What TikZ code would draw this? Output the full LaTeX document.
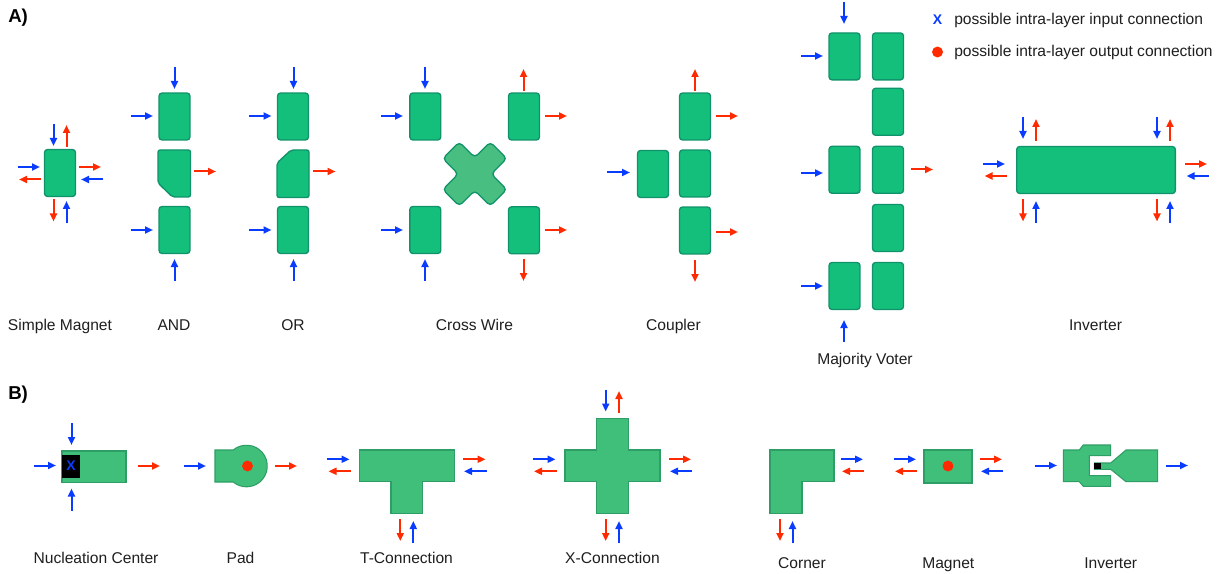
\documentclass[tikz,border=0pt]{standalone}
\usepackage{fontspec}
\setmainfont{Liberation Sans}
\usetikzlibrary{arrows.meta}
\definecolor{magfill}{HTML}{14BF7C}
\definecolor{magline}{HTML}{10936A}
\definecolor{padfill}{HTML}{40BF7A}
\definecolor{padline}{HTML}{2F9E66}
\definecolor{crossfill}{HTML}{48BE80}
\definecolor{inblue}{HTML}{0A3CFF}
\definecolor{outred}{HTML}{FF2A00}
\newcount\arrowno
\newcommand{\conn}[5]{\global\advance\arrowno by 1
  \coordinate (s\the\arrowno) at (#2,#3);
  \coordinate (e\the\arrowno) at (#4,#5);
  \draw[#1] (s\the\arrowno) -- (e\the\arrowno);}
\tikzset{
  inarrow/.style={draw=inblue,line width=1.5pt,-{Triangle[length=6pt,width=5.2pt]}},
  outarrow/.style={draw=outred,line width=1.5pt,-{Triangle[length=6pt,width=5.2pt]}},
  magnet/.style={draw=magline,fill=magfill,line width=1pt,rounded corners=2.2pt,inner sep=0pt,minimum width=23.2pt,minimum height=35.2pt},
  longmagnet/.style={magnet,minimum width=119pt},
  chamfer/.style={draw=magline,fill=magfill,line width=1pt,rounded corners=1.6pt},
  padshape/.style={draw=padline,fill=padfill,line width=.8pt},
  label/.style={font=\fontsize{11.7pt}{14pt}\selectfont,inner sep=0pt,text=black!88,anchor=base},
  heading/.style={font=\fontsize{14pt}{16pt}\selectfont\bfseries,inner sep=0pt,anchor=base west},
  reddot/.style={circle,fill=outred,inner sep=0pt,minimum size=8.2pt},
  bluex/.style={font=\fontsize{10.5pt}{13pt}\selectfont\bfseries,text=inblue,inner sep=0pt},
}
\begin{document}
\begin{tikzpicture}[x=0.75pt,y=-0.75pt]
\useasboundingbox[fill=white] (0,0) rectangle (1225,574);
\node[heading] (hA) at (8,23) {A)};
\node[heading] (hB) at (8,399) {B)};
% Simple magnet
\node[magnet] (sm) at (60,173) {};
\conn{inarrow}{53.5}{124}{53.5}{146}
\conn{outarrow}{66.5}{147}{66.5}{125}
\conn{inarrow}{18}{167}{40}{167}
\conn{outarrow}{41}{179.5}{19}{179.5}
\conn{outarrow}{79}{167}{101}{167}
\conn{inarrow}{103}{179.5}{81}{179.5}
\conn{outarrow}{53.5}{199.5}{53.5}{221.5}
\conn{inarrow}{66.5}{223}{66.5}{201}
\node[label] (lsm) at (60,330) {Simple Magnet};
% AND
\node[magnet] (a1) at (174.5,116.5) {};
\draw[chamfer] (174,150) -- (190.5,150) -- (190.5,197) -- (172.5,197) -- (158,183) -- (158,150) -- cycle;
\node[magnet] (a3) at (174.5,230) {};
\conn{inarrow}{174.5}{67}{174.5}{89}
\conn{inarrow}{131}{116}{153}{116}
\conn{outarrow}{194}{171.5}{216}{171.5}
\conn{inarrow}{131}{230}{153}{230}
\conn{inarrow}{174.5}{281}{174.5}{259}
\node[label] (land) at (174,330) {AND};
% OR
\node[magnet] (o1) at (293,116.5) {};
\draw[chamfer] (300,150) -- (309,150) -- (309,197.5) -- (277,197.5) -- (277,163) -- (291,150) -- cycle;
\node[magnet] (o3) at (293,230) {};
\conn{inarrow}{293.5}{67}{293.5}{89}
\conn{inarrow}{249}{116}{271.5}{116}
\conn{outarrow}{313}{171.5}{335.5}{171.5}
\conn{inarrow}{249}{230}{271.5}{230}
\conn{inarrow}{293.5}{281}{293.5}{259}
\node[label] (lor) at (293,330) {OR};
% Cross wire
\node[magnet] (c1) at (425.3,116.5) {};
\node[magnet] (c2) at (524,116.5) {};
\node[magnet] (c3) at (425.3,230) {};
\node[magnet] (c4) at (524,230.3) {};
\draw[draw=magline,fill=crossfill,line width=1pt,rounded corners=3pt,shift={(474.8,174)}]
  (8,-24.5) -- (15.5,-32) -- (32,-15.5) -- (16.5,0) -- (32,15.5) -- (15.5,32) -- (0,16.5) -- (-15.5,32) -- (-32,15.5) -- (-16.5,0) -- (-32,-15.5) -- (-15.5,-32) -- (0,-16.5) -- cycle;
\conn{inarrow}{425}{67}{425}{89}
\conn{inarrow}{381}{116}{403}{116}
\conn{outarrow}{523.5}{91}{523.5}{69}
\conn{outarrow}{545}{116}{567}{116}
\conn{inarrow}{381}{230}{403}{230}
\conn{inarrow}{425}{281}{425}{259}
\conn{outarrow}{545}{230}{567}{230}
\conn{outarrow}{523.5}{259}{523.5}{281}
\node[label] (lcw) at (474.5,330) {Cross Wire};
% Coupler
\node[magnet] (k0) at (653,174) {};
\node[magnet] (k1) at (695,116.5) {};
\node[magnet] (k2) at (695,173.5) {};
\node[magnet] (k3) at (695,230.5) {};
\conn{outarrow}{695}{91}{695}{69}
\conn{outarrow}{716}{116}{738}{116}
\conn{inarrow}{607}{172.5}{630}{172.5}
\conn{outarrow}{716}{232}{738}{232}
\conn{outarrow}{695}{260}{695}{282}
\node[label] (lco) at (673.5,330) {Coupler};
% Majority voter
\node[magnet] (v1) at (844.5,56.4) {};
\node[magnet] (v2) at (888,56.4) {};
\node[magnet] (v3) at (888,111.8) {};
\node[magnet] (v4) at (844.5,169.8) {};
\node[magnet] (v5) at (888,169.8) {};
\node[magnet] (v6) at (888,228) {};
\node[magnet] (v7) at (844.5,286) {};
\node[magnet] (v8) at (888,286) {};
\conn{inarrow}{844}{2}{844}{24}
\conn{inarrow}{801}{56}{823}{56}
\conn{inarrow}{801}{173}{823}{173}
\conn{outarrow}{911}{169.5}{933}{169.5}
\conn{inarrow}{801}{286}{823}{286}
\conn{inarrow}{844}{342}{844}{320}
\node[label] (lmv) at (865,364) {Majority Voter};
% Legend
\node[bluex] (lx) at (937.5,20) {X};
\node[reddot] (ld) at (937.5,52) {};
\node[label,anchor=base west] (lt1) at (954,25) {possible intra-layer input connection};
\node[label,anchor=base west] (lt2) at (954,57) {possible intra-layer output connection};
% Inverter A
\node[longmagnet] (ia) at (1096,170) {};
\conn{inarrow}{1023}{117}{1023}{139}
\conn{outarrow}{1036}{141}{1036}{119}
\conn{inarrow}{1157}{117}{1157}{139}
\conn{outarrow}{1170}{141}{1170}{119}
\conn{inarrow}{983}{164}{1005}{164}
\conn{outarrow}{1006.5}{176}{984.5}{176}
\conn{outarrow}{1185}{164}{1207}{164}
\conn{inarrow}{1208.5}{176}{1186.5}{176}
\conn{outarrow}{1023}{199.5}{1023}{221.5}
\conn{inarrow}{1036}{223}{1036}{201}
\conn{outarrow}{1157}{199.5}{1157}{221.5}
\conn{inarrow}{1170}{223}{1170}{201}
\node[label] (lia) at (1095.5,330) {Inverter};
% Nucleation center
\draw[padshape] (62,451) rectangle (126,482.5);
\fill[black] (62,455) rectangle (80,478);
\node[bluex] (nx) at (71,466) {X};
\conn{inarrow}{71.5}{423}{71.5}{445}
\conn{inarrow}{34}{465.5}{56}{465.5}
\conn{inarrow}{71.5}{510.5}{71.5}{488.5}
\conn{outarrow}{138}{466}{160}{466}
\node[label] (lnc) at (96,563) {Nucleation Center};
% Pad
\draw[padshape] (215,450) -- (233.2,450) arc[start angle=129.7,delta angle=-259.4,radius=15.6pt] -- (215,482) -- cycle;
\node[reddot] (pd) at (247.5,466) {};
\conn{inarrow}{184}{466}{206}{466}
\conn{outarrow}{275}{466}{297}{466}
\node[label] (lpa) at (240.5,563) {Pad};
% T-connection
\draw[padshape] (359.3,450) -- (454.7,450) -- (454.7,481.7) -- (422.7,481.7) -- (422.7,513.7) -- (391,513.7) -- (391,481.7) -- (359.3,481.7) -- cycle;
\conn{inarrow}{327}{459.3}{349.5}{459.3}
\conn{outarrow}{351}{471.3}{328.5}{471.3}
\conn{outarrow}{463}{459.3}{485.5}{459.3}
\conn{inarrow}{486.5}{471.3}{464}{471.3}
\conn{outarrow}{400.3}{519}{400.3}{541}
\conn{inarrow}{413.3}{543}{413.3}{521}
\node[label] (ltc) at (406.5,563) {T-Connection};
% X-connection
\draw[padshape] (596.3,418.3) -- (628.3,418.3) -- (628.3,450) -- (660,450) -- (660,481.7) -- (628.3,481.7) -- (628.3,513.7) -- (596.3,513.7) -- (596.3,481.7) -- (565,481.7) -- (565,450) -- (596.3,450) -- cycle;
\conn{inarrow}{605.7}{389.5}{605.7}{411.5}
\conn{outarrow}{619}{413}{619}{391}
\conn{inarrow}{533}{459.3}{555.5}{459.3}
\conn{outarrow}{556.5}{471.3}{534}{471.3}
\conn{outarrow}{669}{459.3}{691}{459.3}
\conn{inarrow}{692}{471.3}{670}{471.3}
\conn{outarrow}{605.7}{519}{605.7}{541}
\conn{inarrow}{619}{543}{619}{521}
\node[label] (lxc) at (612.5,563) {X-Connection};
% Corner
\draw[padshape] (770,450) -- (834,450) -- (834,481.7) -- (802,481.7) -- (802,513.7) -- (770,513.7) -- cycle;
\conn{inarrow}{841}{459.3}{863}{459.3}
\conn{outarrow}{864}{471.3}{842}{471.3}
\conn{outarrow}{780}{519}{780}{541}
\conn{inarrow}{792.5}{543}{792.5}{521}
\node[label] (lcr) at (802,568.3) {Corner};
% Magnet
\draw[padshape] (924,450) rectangle (972,483);
\node[reddot] (md) at (948,466) {};
\conn{inarrow}{894}{459.3}{916}{459.3}
\conn{outarrow}{917}{471.3}{895}{471.3}
\conn{outarrow}{980}{459.3}{1002}{459.3}
\conn{inarrow}{1003}{471.3}{981}{471.3}
\node[label] (lma) at (948.3,568.3) {Magnet};
% Inverter B
\draw[padshape] (1063.3,450) -- (1079.3,450) -- (1083.3,445) -- (1110.7,445) -- (1110.7,455.7) -- (1089.3,455.7) -- (1089.3,475.7) -- (1110.7,475.7) -- (1110.7,486.3) -- (1083.3,486.3) -- (1079.3,481.7) -- (1063.3,481.7) -- cycle;
\draw[padshape] (1157.7,450) -- (1126,450) -- (1110.7,463) -- (1094.3,463) -- (1094.3,469.3) -- (1110.7,469.3) -- (1126,481.7) -- (1157.7,481.7) -- cycle;
\fill[black] (1094.3,463) rectangle (1101,469.3);
\conn{inarrow}{1035}{465.5}{1057}{465.5}
\conn{inarrow}{1166}{465.5}{1188}{465.5}
\node[label] (lib) at (1110.7,568.3) {Inverter};
\end{tikzpicture}
\end{document}
